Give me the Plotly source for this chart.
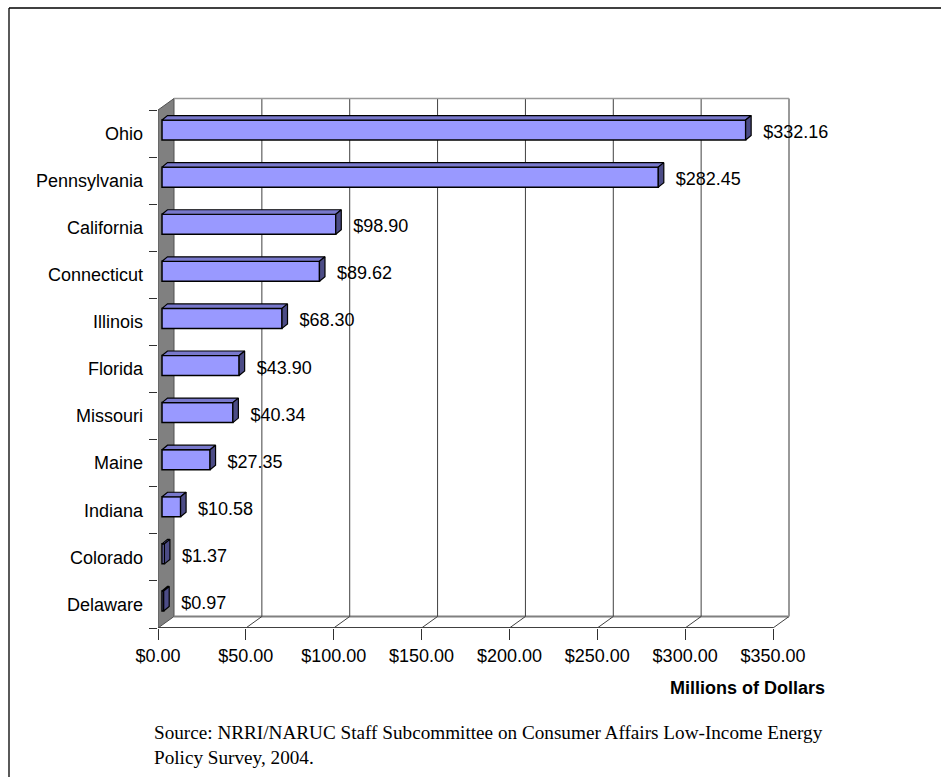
import plotly.graph_objects as go

# ---------------- data ----------------
states = ["Ohio", "Pennsylvania", "California", "Connecticut", "Illinois",
          "Florida", "Missouri", "Maine", "Indiana", "Colorado", "Delaware"]
values = [332.16, 282.45, 98.90, 89.62, 68.30, 43.90, 40.34, 27.35, 10.58, 1.37, 0.97]
tick_values = [0, 50, 100, 150, 200, 250, 300, 350]
tick_labels = ["$0.00", "$50.00", "$100.00", "$150.00", "$200.00",
               "$250.00", "$300.00", "$350.00"]
x_title = "Millions of Dollars"
source_lines = ["Source: NRRI/NARUC Staff Subcommittee on Consumer Affairs Low-Income Energy",
                "Policy Survey, 2004."]

# ---------------- layout geometry (pixels) ----------------
W, H = 941, 777
PL, PR, PT, PB = 158, 795, 92, 628          # plot area edges in pixels
FRONT_X350 = 773                             # pixel of 350 on the front plane
FRONT_TOP = 110                              # pixel of top category boundary (front)
XMAX = max(tick_values)
ppx = (FRONT_X350 - PL) / XMAX
n = len(states)
ppy = (PB - FRONT_TOP) / n
x_range = [0, (PR - PL) / ppx]
y_range = [-0.5, -0.5 + (PB - PT) / ppy]

WALL_DX, WALL_DY = 16 / ppx, 11.5 / ppy      # depth of the 3D box
SH_DX, SH_DY = 4 / ppx, 3 / ppy              # bar shift into depth
BD_DX, BD_DY = 5.5 / ppx, 4.5 / ppy          # bar depth
BAR_W = 20 / ppy
BAR_OFF = -6.5 / ppy

ypos = list(range(n - 1, -1, -1))            # Ohio at top

FONT = "Liberation Sans, Arial, sans-serif"
SERIF = "Liberation Serif, Times New Roman, serif"
FRONT = "#9999FF"
TOP = "#7878CC"
SIDE = "#4C4C86"


def px_x(p):
    return (p - PL) / (PR - PL)


def px_y(p):
    return (PB - p) / (PB - PT)


fig = go.Figure()

# front faces of the bars
fig.add_trace(go.Bar(
    x=values, y=ypos, orientation="h", base=SH_DX,
    width=BAR_W, offset=BAR_OFF,
    marker=dict(color=FRONT, line=dict(color="black", width=1.5)),
    hoverinfo="skip", showlegend=False,
))

# top and side faces
for v, y in zip(values, ypos):
    x0 = SH_DX
    x1 = SH_DX + v
    yb = y + BAR_OFF
    yt = yb + BAR_W
    fig.add_trace(go.Scatter(
        x=[x0, x1, x1 + BD_DX, x0 + BD_DX, x0],
        y=[yt, yt, yt + BD_DY, yt + BD_DY, yt],
        fill="toself", fillcolor=TOP, mode="lines",
        line=dict(color="black", width=1.2), hoverinfo="skip", showlegend=False))
    fig.add_trace(go.Scatter(
        x=[x1, x1, x1 + BD_DX, x1 + BD_DX, x1],
        y=[yb, yt, yt + BD_DY, yb + BD_DY, yb],
        fill="toself", fillcolor=SIDE, mode="lines",
        line=dict(color="black", width=1.2), hoverinfo="skip", showlegend=False))

# data labels
LABEL_GAP = (4 + 5.5 + 12) / ppx
fig.add_trace(go.Scatter(
    x=[v + LABEL_GAP for v in values], y=ypos, mode="text",
    text=["${:.2f}".format(v) for v in values],
    textposition="middle right",
    textfont=dict(family=FONT, size=18, color="black"),
    cliponaxis=False, hoverinfo="skip", showlegend=False))

shapes = []
ybot = -0.5
ytop = n - 0.5
# left wall
shapes.append(dict(type="path", xref="x", yref="y", layer="below",
                   path=f"M 0 {ybot} L 0 {ytop} L {WALL_DX} {ytop + WALL_DY} L {WALL_DX} {ybot + WALL_DY} Z",
                   fillcolor="#808080", line=dict(color="#505050", width=1)))
# floor back edge
shapes.append(dict(type="line", xref="x", yref="y", layer="below",
                   x0=WALL_DX, x1=XMAX + WALL_DX, y0=ybot + WALL_DY, y1=ybot + WALL_DY,
                   line=dict(color="#808080", width=2)))
# back wall gridlines and floor diagonals
for t in tick_values[1:-1]:
    shapes.append(dict(type="line", xref="x", yref="y", layer="below",
                       x0=t + WALL_DX, x1=t + WALL_DX, y0=ybot + WALL_DY, y1=ytop + WALL_DY,
                       line=dict(color="#404040", width=1)))
for t in tick_values[1:]:
    shapes.append(dict(type="line", xref="x", yref="y", layer="below",
                       x0=t, x1=t + WALL_DX, y0=ybot, y1=ybot + WALL_DY,
                       line=dict(color="#404040", width=1)))
# back wall right and top edges
shapes.append(dict(type="line", xref="x", yref="y", layer="below",
                   x0=XMAX + WALL_DX, x1=XMAX + WALL_DX, y0=ybot + WALL_DY, y1=ytop + WALL_DY,
                   line=dict(color="#999999", width=2)))
shapes.append(dict(type="line", xref="x", yref="y", layer="below",
                   x0=WALL_DX, x1=XMAX + WALL_DX, y0=ytop + WALL_DY, y1=ytop + WALL_DY,
                   line=dict(color="#999999", width=1.5)))
# outer frame (top and left edges only; the rest runs off the page)
shapes.append(dict(type="line", xref="paper", yref="paper",
                   x0=px_x(9), x1=px_x(W), y0=px_y(8), y1=px_y(8),
                   line=dict(color="black", width=1.3)))
shapes.append(dict(type="line", xref="paper", yref="paper",
                   x0=px_x(9), x1=px_x(9), y0=px_y(8), y1=px_y(H),
                   line=dict(color="black", width=1.3)))

annotations = [
    dict(text=f"<b>{x_title}</b>", xref="paper", yref="paper",
         x=px_x(827), y=px_y(688), xanchor="right", yanchor="middle",
         showarrow=False, font=dict(family=FONT, size=18, color="black")),
    dict(text=source_lines[0], xref="paper", yref="paper",
         x=px_x(152), y=px_y(732), xanchor="left", yanchor="middle",
         showarrow=False, font=dict(family=SERIF, size=19.2, color="black")),
    dict(text=source_lines[1], xref="paper", yref="paper",
         x=px_x(152), y=px_y(757), xanchor="left", yanchor="middle",
         showarrow=False, font=dict(family=SERIF, size=19.2, color="black")),
]

fig.update_layout(
    width=W, height=H,
    margin=dict(l=PL, r=W - PR, t=PT, b=H - PB, pad=0),
    paper_bgcolor="white", plot_bgcolor="white",
    shapes=shapes, annotations=annotations,
    showlegend=False, barmode="overlay",
    xaxis=dict(range=x_range, tickvals=tick_values, ticktext=tick_labels,
               showgrid=False, zeroline=False, showline=False,
               ticks="outside", ticklen=11, tickcolor="#303030", tickwidth=1,
               tickfont=dict(family=FONT, size=18, color="black"), fixedrange=True),
    yaxis=dict(range=y_range, tickvals=ypos, ticktext=states,
               showgrid=False, zeroline=False, showline=False,
               ticks="", ticklabelstandoff=14,
               minor=dict(tickvals=[i - 0.5 for i in range(n + 1)], ticks="outside",
                          ticklen=8, tickcolor="#303030", tickwidth=1, showgrid=False),
               tickfont=dict(family=FONT, size=18, color="black"), fixedrange=True),
)

# front axis line along the floor
fig.add_shape(type="line", xref="x", yref="y", x0=0, x1=XMAX, y0=ybot, y1=ybot,
              line=dict(color="#404040", width=2), layer="above")

fig.write_html("out.html", config={"displayModeBar": False},
               post_script="document.body.style.margin='0px';document.body.style.overflow='hidden';")
